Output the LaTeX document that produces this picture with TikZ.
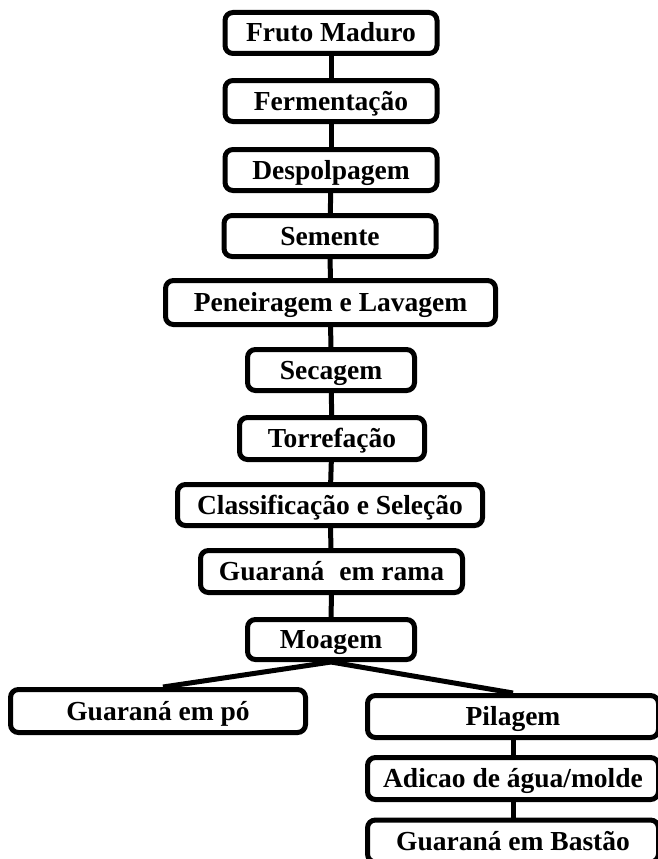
\documentclass[tikz,border=0pt]{standalone}
\usepackage{fontspec}
\setmainfont{Liberation Serif}
\begin{document}
\begin{tikzpicture}[x=1pt,y=-1pt,
  box/.style={draw, line width=5pt, rounded corners=8pt, inner sep=0pt,
    text height=21pt, text depth=3pt,
    font=\fontsize{27.5}{31}\selectfont\bfseries, align=center},
  link/.style={line width=5pt}]
\useasboundingbox (0,0) rectangle (657,859);
\node[box, minimum width=212pt, minimum height=41pt] (n1) at (331,33) {Fruto Maduro};
\node[box, minimum width=212pt, minimum height=41pt] (n2) at (331,101) {Fermentação};
\node[box, minimum width=212pt, minimum height=41pt] (n3) at (331,170) {Despolpagem};
\node[box, minimum width=212pt, minimum height=41pt] (n4) at (330,236) {Semente};
\node[box, minimum width=330pt, minimum height=44pt] (n5) at (330.5,302.5) {Peneiragem e Lavagem};
\node[box, minimum width=167pt, minimum height=41pt] (n6) at (331,370) {Secagem};
\node[box, minimum width=185pt, minimum height=42pt] (n7) at (332,438.5) {Torrefação};
\node[box, minimum width=305pt, minimum height=41pt] (n8) at (330,505) {Classificação e Seleção};
\node[box, minimum width=262pt, minimum height=42pt] (n9) at (331.5,571.5) {Guaraná\hspace{0.3em} em rama};
\node[box, minimum width=167pt, minimum height=40pt] (n10) at (331,639.5) {Moagem};
\node[box, minimum width=295pt, minimum height=43pt] (n11) at (158,711) {Guaraná em pó};
\node[box, minimum width=291pt, minimum height=42pt] (n12) at (513,716.5) {Pilagem};
\node[box, minimum width=291pt, minimum height=42pt] (n13) at (513,778.5) {Adicao de água/molde};
\node[box, minimum width=291pt, minimum height=42pt] (n14) at (513,841) {Guaraná em Bastão};
\draw[link] (n1) -- (n2);
\draw[link] (n2) -- (n3);
\draw[link] (n3) -- (n4);
\draw[link] (n4) -- (n5);
\draw[link] (n5) -- (n6);
\draw[link] (n6) -- (n7);
\draw[link] (n7) -- (n8);
\draw[link] (n8) -- (n9);
\draw[link] (n9) -- (n10);
\draw[link] (n10.south) -- ([xshift=5pt]n11.north);
\draw[link] (n10.south) -- (n12.north);
\draw[link] (n12) -- (n13);
\draw[link] (n13) -- (n14);
\end{tikzpicture}
\end{document}
